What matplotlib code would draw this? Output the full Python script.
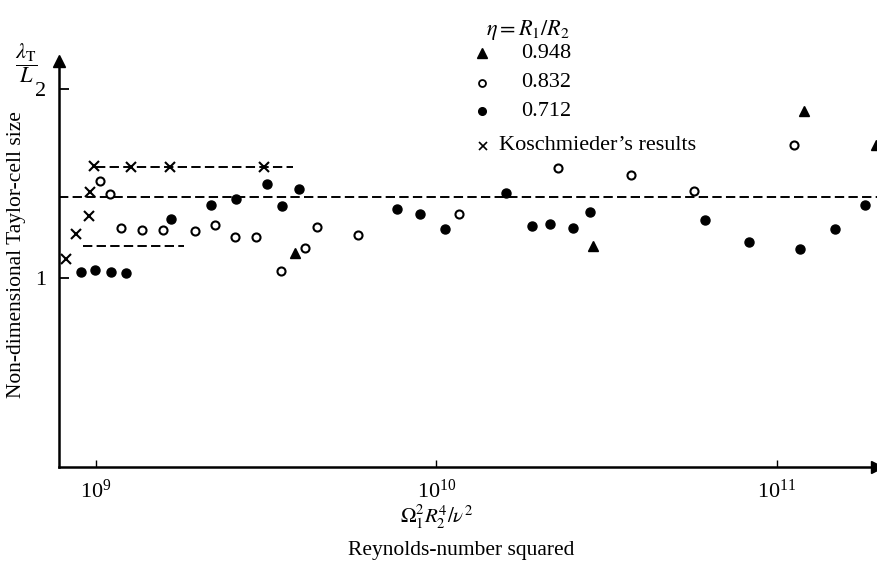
import matplotlib
matplotlib.use("Agg")
import matplotlib.pyplot as plt
from matplotlib.lines import Line2D

plt.rcParams["font.family"] = ["Liberation Serif", "DejaVu Serif"]
plt.rcParams["mathtext.fontset"] = "stix"

# eta = 0.712 (filled circles)
re2_712 = [9.08e8, 9.93e8, 1.105e9, 1.225e9, 1.668e9, 2.187e9, 2.59e9, 3.185e9,
           3.525e9, 3.947e9, 7.69e9, 8.99e9, 1.059e10, 1.608e10, 1.911e10,
           2.154e10, 2.522e10, 2.838e10, 6.158e10, 8.31e10, 1.174e11, 1.487e11,
           1.813e11]
size_712 = [1.033, 1.042, 1.033, 1.028, 1.314, 1.385, 1.418, 1.499, 1.379, 1.469,
            1.363, 1.337, 1.258, 1.448, 1.277, 1.286, 1.266, 1.348, 1.307, 1.189,
            1.155, 1.258, 1.385]

# eta = 0.832 (open circles)
re2_832 = [1.027e9, 1.099e9, 1.184e9, 1.368e9, 1.58e9, 1.957e9, 2.246e9, 2.56e9,
           2.951e9, 3.494e9, 4.13e9, 4.467e9, 5.89e9, 1.167e10, 2.279e10,
           3.726e10, 5.716e10, 1.122e11]
size_832 = [1.515, 1.443, 1.265, 1.256, 1.256, 1.249, 1.279, 1.217, 1.215, 1.035,
            1.160, 1.271, 1.229, 1.337, 1.584, 1.547, 1.460, 1.702]

# eta = 0.948 (filled triangles)
re2_948 = [3.86e9, 2.887e10, 1.2e11, 1.963e11]
size_948 = [1.134, 1.169, 1.885, 1.704]

# Koschmieder's results (crosses)
re2_kosch = [8.2e8, 8.73e8, 9.56e8, 9.65e8, 9.89e8, 1.273e9, 1.649e9, 3.114e9]
size_kosch = [1.099, 1.233, 1.328, 1.457, 1.593, 1.586, 1.586, 1.586]

# dashed reference levels: (level, x-start, x-end)
mean_level = 1.43
kosch_level = [1.586, 1.0e9, 3.8e9]
low_level = [1.169, 9.2e8, 1.82e9]

fig = plt.figure(figsize=(8.77, 5.73), dpi=100)
ax = fig.add_axes([59 / 877, 1 - 467 / 573, 818 / 877, (467 - 60.6) / 573])
ax.set_xscale("log")
ax.set_xlim(7.8e8, 1.97e11)
ax.set_ylim(0, 2.15)

dash = dict(color="black", lw=1.4, dashes=(4.8, 2.2))
ax.axhline(mean_level, **dash)
ax.plot(kosch_level[1:], [kosch_level[0]] * 2, **dash)
ax.plot(low_level[1:], [low_level[0]] * 2, **dash)

ax.plot(re2_712, size_712, "o", ms=6.5, color="black", ls="none")
ax.plot(re2_832, size_832, "o", ms=5.8, mfc="white", mec="black", mew=1.5, ls="none")
ax.plot(re2_948, size_948, "^", ms=7.5, color="black", ls="none")
ax.plot(re2_kosch, size_kosch, "x", ms=7.5, mew=1.5, color="black", ls="none")

# axes: only left and bottom, with arrowheads
for side in ("top", "right"):
    ax.spines[side].set_visible(False)
for side in ("left", "bottom"):
    ax.spines[side].set_linewidth(1.8)
ax.plot(0, 1, "^", ms=8, color="black", transform=ax.transAxes, clip_on=False)
ax.plot(1, 0, ">", ms=8, color="black", transform=ax.transAxes, clip_on=False)

ax.set_yticks([1, 2])
ax.set_yticklabels(["1", "2"])
ax.set_xticks([1e9, 1e10, 1e11])
ax.minorticks_off()
ax.tick_params(axis="y", direction="in", length=7, width=1.3, pad=9, labelsize=16)
ax.tick_params(axis="x", direction="in", length=5, width=1.0, pad=9, labelsize=16)

# axis titles
fig.text(17 / 877, 1 - 255 / 573, "Non-dimensional Taylor-cell size",
         rotation=90, ha="center", va="center", fontsize=15.5)
fig.text(26 / 877, 1 - 63 / 573, r"$\dfrac{\lambda_\mathrm{T}}{L}$",
         ha="center", va="center", fontsize=16)
fig.text(437 / 877, 1 - 517 / 573, r"$\mathit{\Omega}_1^2 R_2^4/\nu^2$",
         ha="center", va="center", fontsize=15)
fig.text(461 / 877, 1 - 550 / 573, "Reynolds-number squared",
         ha="center", va="center", fontsize=15.5)

# key
def px(x, y):
    return x / 877, 1 - y / 573

fig.text(*px(486, 30), r"$\eta = R_1/R_2$", ha="left", va="center", fontsize=16)
key = [("^", dict(ms=6.5, color="black"), "0.948", 53),
       ("o", dict(ms=5, mfc="white", mec="black", mew=1.3), "0.832", 83),
       ("o", dict(ms=5.5, color="black"), "0.712", 111)]
for marker, style, label, y in key:
    fig.add_artist(Line2D([px(482, y)[0]], [px(482, y)[1]], marker=marker,
                          ls="none", **style))
    fig.text(*px(521, y), label, ha="left", va="center", fontsize=16)
fig.add_artist(Line2D([px(483, 146)[0]], [px(483, 146)[1]], marker="x",
                      ms=5.5, mew=1.2, color="black", ls="none"))
fig.text(*px(499, 146), "Koschmieder\u2019s results", ha="left", va="center",
         fontsize=16)

fig.savefig("out.png", dpi=100, facecolor="white")
